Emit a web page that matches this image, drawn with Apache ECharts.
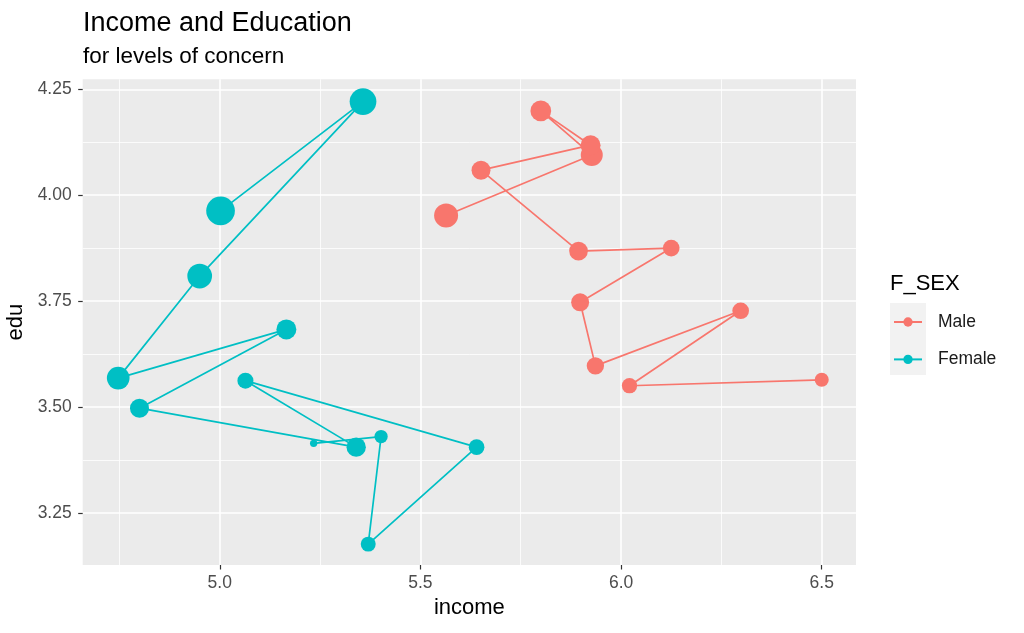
<!DOCTYPE html>
<html>
<head>
<meta charset="utf-8">
<title>Income and Education</title>
<script src="https://cdn.jsdelivr.net/npm/echarts@6/dist/echarts.min.js"></script>
<style>
html,body{margin:0;padding:0;background:#fff;}
#chart{width:1024px;height:633px;}
</style>
</head>
<body>
<div id="chart"></div>
<script>
// values, in path order (levels of concern)
var sexLevels = ['Male', 'Female'];
var maleIncome = [5.564, 5.927, 5.800, 5.924, 5.651, 5.894, 6.125, 5.898, 5.936, 6.298, 6.021, 6.500];
var maleEdu = [3.952, 4.095, 4.199, 4.118, 4.059, 3.868, 3.875, 3.747, 3.597, 3.727, 3.550, 3.564];
var maleN = [19, 16, 14.2, 13.2, 11.9, 11.6, 9.2, 10.7, 9.9, 9.2, 7.7, 6.5];
var femaleIncome = [5.002, 5.357, 4.950, 4.747, 5.166, 4.800, 5.340, 5.064, 5.640, 5.370, 5.402, 5.234];
var femaleEdu = [3.963, 4.221, 3.809, 3.568, 3.683, 3.497, 3.405, 3.562, 3.405, 3.176, 3.430, 3.414];
var femaleN = [27.2, 23.6, 20.2, 17.0, 13.2, 11.9, 12.3, 8.5, 8.1, 7.4, 5.8, 1.8];
var xTicks = [5.0, 5.5, 6.0, 6.5];
var xMinor = [4.75, 5.25, 5.75, 6.25];
var yTicks = [3.25, 3.50, 3.75, 4.00, 4.25];
var yMinor = [3.375, 3.625, 3.875, 4.125];

var FONT = '"Liberation Sans", Arial, sans-serif';
var colors = {Male: '#F8766D', Female: '#00BFC4'};

function zipPts(xs, ys, ns){
	var out = [];
	for (var i = 0; i < xs.length; i++) out.push([xs[i], ys[i], ns[i]]);
	return out;
}
function pathSeries(name, pts){
	return {
		name: name,
		type: 'line',
		data: pts,
		symbol: 'circle',
		symbolSize: function(v){ return 5.5 * Math.sqrt(v[2]); },
		showAllSymbol: true,
		lineStyle: {color: colors[name], width: 1.7},
		itemStyle: {color: colors[name], borderWidth: 0},
		emphasis: {disabled: true},
		animation: false
	};
}
function majorAxis(min, max, ticks, digits, margin, extra){
	var ax = {
		type: 'value', min: min, max: max,
		axisLine: {show: false},
		axisTick: {show: true, length: 4.5, customValues: ticks, lineStyle: {color: '#333333', width: 1.2}},
		axisLabel: {customValues: ticks, color: '#4D4D4D', fontSize: 17.5, fontFamily: FONT, margin: margin,
			formatter: function(v){ return v.toFixed(digits); }},
		splitLine: {show: true, lineStyle: {color: '#FFFFFF', width: 1.6}}
	};
	for (var k in extra) ax[k] = extra[k];
	return ax;
}
function minorAxis(min, max, ticks){
	return {
		type: 'value', min: min, max: max,
		axisLine: {show: false},
		axisTick: {show: false, customValues: ticks},
		axisLabel: {show: false, customValues: ticks},
		splitLine: {show: true, lineStyle: {color: '#FFFFFF', width: 0.8}}
	};
}

var xMin = 4.6585, xMax = 6.5854, yMin = 3.1267, yMax = 4.2736;

var chart = echarts.init(document.getElementById('chart'));
chart.setOption({
	backgroundColor: '#FFFFFF',
	animation: false,
	textStyle: {fontFamily: FONT},
	title: [
		{text: 'Income and Education', left: 83, top: 10, padding: 0,
			textStyle: {fontSize: 27, fontWeight: 'normal', color: '#000', fontFamily: FONT}},
		{text: 'for levels of concern', left: 83, top: 45, padding: 0,
			textStyle: {fontSize: 22.5, fontWeight: 'normal', color: '#000', fontFamily: FONT}},
		{text: 'F_SEX', left: 890, top: 273, padding: 0,
			textStyle: {fontSize: 22, fontWeight: 'normal', color: '#000', fontFamily: FONT}}
	],
	graphic: [
		{type: 'rect', left: 890, top: 303, shape: {width: 36, height: 72}, style: {fill: '#F2F2F2'}, z: -1}
	],
	legend: {
		data: sexLevels,
		orient: 'vertical',
		left: 893, top: 313,
		itemWidth: 28, itemHeight: 11.6, itemGap: 19.4,
		padding: 0,
		selectedMode: false,
		textStyle: {fontSize: 17.5, color: '#1A1A1A', fontFamily: FONT, lineHeight: 12, padding: [0, 0, 0, 11]}
	},
	grid: {left: 82.7, right: 168, top: 79.3, bottom: 68, show: true, backgroundColor: '#EBEBEB', borderWidth: 0,
		containLabel: false, outerBoundsMode: 'none'},
	xAxis: [
		majorAxis(xMin, xMax, xTicks, 1, 9, {name: 'income', nameLocation: 'middle', nameGap: 31,
			nameTextStyle: {fontSize: 22, color: '#000', fontFamily: FONT}}),
		minorAxis(xMin, xMax, xMinor)
	],
	yAxis: [
		majorAxis(yMin, yMax, yTicks, 2, 11, {name: 'edu', nameLocation: 'middle', nameGap: 48,
			nameTextStyle: {fontSize: 22, color: '#000', fontFamily: FONT}}),
		minorAxis(yMin, yMax, yMinor)
	],
	series: [
		pathSeries('Male', zipPts(maleIncome, maleEdu, maleN)),
		pathSeries('Female', zipPts(femaleIncome, femaleEdu, femaleN))
	]
});
</script>
</body>
</html>
